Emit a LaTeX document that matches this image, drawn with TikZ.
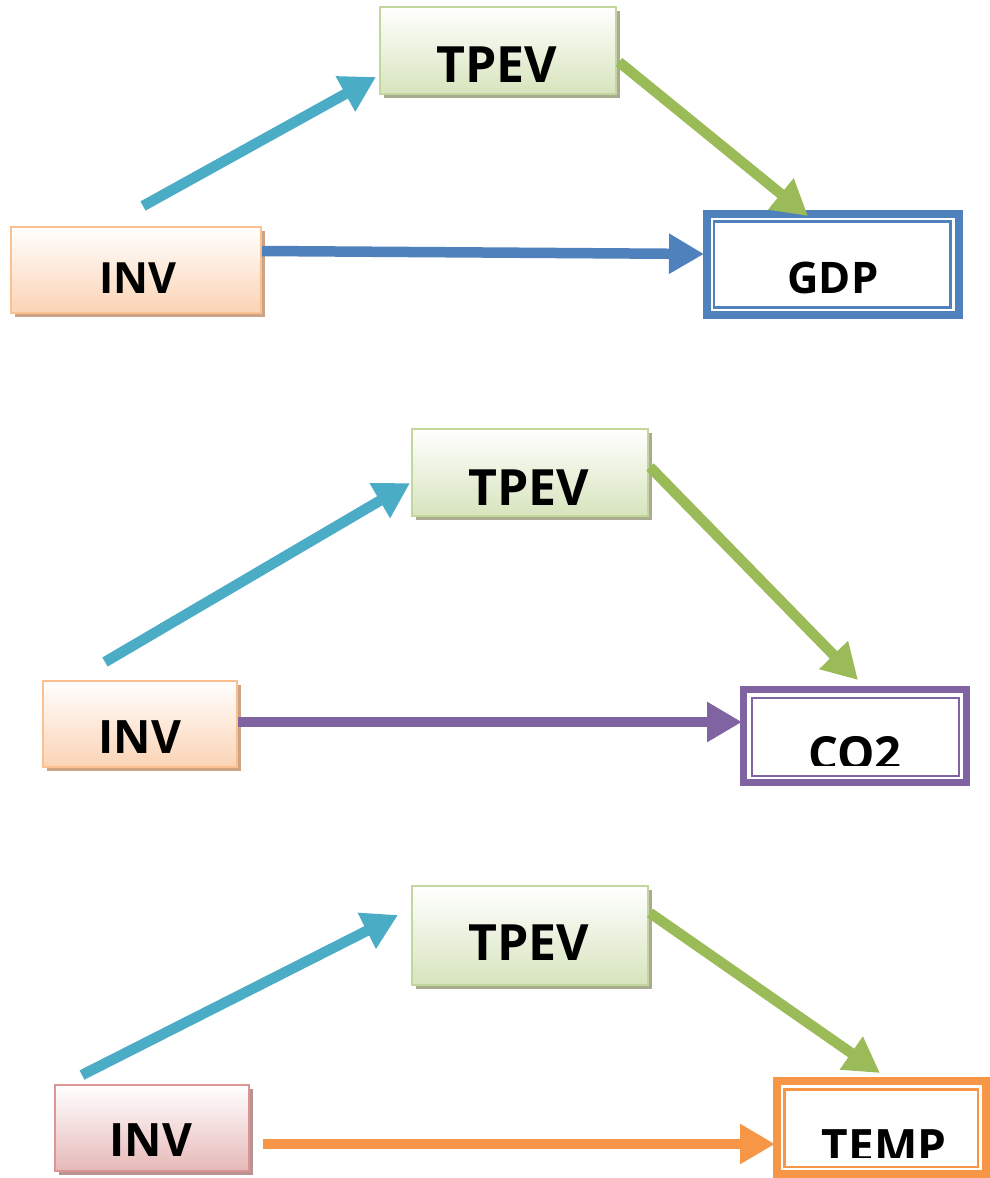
\documentclass[tikz,border=0pt]{standalone}
\usepackage{fontspec}
\setmainfont{Open Sans}
\usetikzlibrary{arrows.meta,shadows}

\definecolor{arrcyan}{HTML}{4BACC6}
\definecolor{arrblue}{HTML}{4F81BD}
\definecolor{arrgreen}{HTML}{9BBB59}
\definecolor{arrpurple}{HTML}{8064A2}
\definecolor{arrorange}{HTML}{F79646}
\definecolor{tpevline}{HTML}{C3D69B}
\definecolor{tpevfill}{HTML}{D7E4BD}
\definecolor{tpevshade}{HTML}{A9AC91}
\definecolor{invline}{HTML}{FAC090}
\definecolor{invfill}{HTML}{FBD3B4}
\definecolor{invshade}{HTML}{CDA386}
\definecolor{pinkline}{HTML}{D99694}
\definecolor{pinkfill}{HTML}{E6B9B8}
\definecolor{pinkshade}{HTML}{B99392}

\tikzset{
  x=1pt, y=-1pt,
  gradbox/.style={rectangle, inner sep=0pt, line width=2pt},
  tpevbox/.style={gradbox, draw=tpevline, top color=white, bottom color=tpevfill,
    drop shadow={shadow xshift=4pt, shadow yshift=-4pt, fill=tpevshade, opacity=1}},
  invbox/.style={gradbox, draw=invline, top color=white, bottom color=invfill,
    drop shadow={shadow xshift=4pt, shadow yshift=-4pt, fill=invshade, opacity=1}},
  pinkbox/.style={gradbox, draw=pinkline, top color=white, bottom color=pinkfill,
    drop shadow={shadow xshift=4pt, shadow yshift=-4pt, fill=pinkshade, opacity=1}},
  outerbox/.style={rectangle, inner sep=0pt, draw, fill=white},
  lbl/.style={anchor=base, inner sep=0pt, font=\bfseries},
  arr/.style={line width=10.5pt, line cap=butt, -{Triangle[length=35pt, width=38pt]}},
}

\newcommand{\lblsize}[1]{\fontsize{#1}{#1}\selectfont}

\begin{document}
\begin{tikzpicture}
  \clip (0,0) rectangle (990,1178);
  \fill[white] (0,0) rectangle (990,1178);

  % ---------------- first model: INV, TPEV -> GDP ----------------
  \node[tpevbox, minimum width=236pt, minimum height=87pt] (tp1) at (498,50.5) {};
  \node[lbl, font=\bfseries\lblsize{50}] (tp1t) at (497,82) {TPEV};
  \node[invbox, minimum width=250pt, minimum height=86pt] (inv1) at (136,270) {};
  \node[lbl, font=\bfseries\lblsize{43}] (inv1t) at (138,293) {INV};
  \node[outerbox, draw=arrblue, line width=8pt, minimum width=252pt, minimum height=101.5pt] (gdp) at (833,264.25) {};
  \draw[arrblue, line width=2.5pt] ([shift={(11,12)}]gdp.north west) rectangle ([shift={(-12.5,-11.5)}]gdp.south east);
  \node[lbl, font=\bfseries\lblsize{43.5}] (gdpt) at (833,293) {GDP};

  \coordinate (a1s) at (143,206);  \coordinate (a1e) at (376,77);
  \coordinate (b1s) at (262,251);  \coordinate (b1e) at (704,254);
  \coordinate (g1s) at (619,62);   \coordinate (g1e) at (808,216);
  \draw[arr, arrcyan]  (a1s) -- (a1e);
  \draw[arr, arrblue]  (b1s) -- (b1e);
  \draw[arr, arrgreen] (g1s) -- (g1e);

  % ---------------- second model: INV, TPEV -> CO2 ----------------
  \node[tpevbox, minimum width=236pt, minimum height=87pt] (tp2) at (530,472.5) {};
  \node[lbl, font=\bfseries\lblsize{50}] (tp2t) at (529,505) {TPEV};
  \node[invbox, minimum width=194pt, minimum height=86pt] (inv2) at (140,724) {};
  \node[lbl, font=\bfseries\lblsize{46}] (inv2t) at (140,753) {INV};
  \node[outerbox, draw=arrpurple, line width=7pt, minimum width=223pt, minimum height=93.5pt] (co2) at (855,735.75) {};
  \draw[arrpurple, line width=2pt] ([shift={(12,12)}]co2.north west) rectangle ([shift={(-11,-10.5)}]co2.south east);
  \begin{scope}
    \clip (745,690) rectangle (965,765);
    \node[lbl, font=\bfseries\lblsize{47}] (co2t) at (855,770) {CO2};
  \end{scope}

  \coordinate (a2s) at (105,662);  \coordinate (a2e) at (410,483);
  \coordinate (b2s) at (238,722);  \coordinate (b2e) at (742,722);
  \coordinate (g2s) at (650,467);  \coordinate (g2e) at (858,680);
  \draw[arr, arrcyan]   (a2s) -- (a2e);
  \draw[arr, arrpurple] (b2s) -- (b2e);
  \draw[arr, arrgreen]  (g2s) -- (g2e);

  % ---------------- third model: INV, TPEV -> TEMP ----------------
  \node[tpevbox, minimum width=236pt, minimum height=99pt] (tp3) at (530,935.5) {};
  \node[lbl, font=\bfseries\lblsize{50}] (tp3t) at (529,960) {TPEV};
  \node[pinkbox, minimum width=194pt, minimum height=86pt] (inv3) at (152,1128) {};
  \node[lbl, font=\bfseries\lblsize{46}] (inv3t) at (151,1156) {INV};
  \node[outerbox, draw=arrorange, line width=8pt, minimum width=209pt, minimum height=93pt] (temp) at (881.5,1127.5) {};
  \draw[arrorange, line width=2.5pt] ([shift={(11.5,12.5)}]temp.north west) rectangle ([shift={(-12,-11)}]temp.south east);
  \begin{scope}
    \clip (785,1095) rectangle (978,1157);
    \node[lbl, font=\bfseries\lblsize{46}] (tempt) at (884,1162) {TEMP};
  \end{scope}

  \coordinate (a3s) at (82,1075);  \coordinate (a3e) at (398,915);
  \coordinate (b3s) at (263,1144); \coordinate (b3e) at (775,1144);
  \coordinate (g3s) at (650,913);  \coordinate (g3e) at (880,1073);
  \draw[arr, arrcyan]   (a3s) -- (a3e);
  \draw[arr, arrorange] (b3s) -- (b3e);
  \draw[arr, arrgreen]  (g3s) -- (g3e);
\end{tikzpicture}
\end{document}
